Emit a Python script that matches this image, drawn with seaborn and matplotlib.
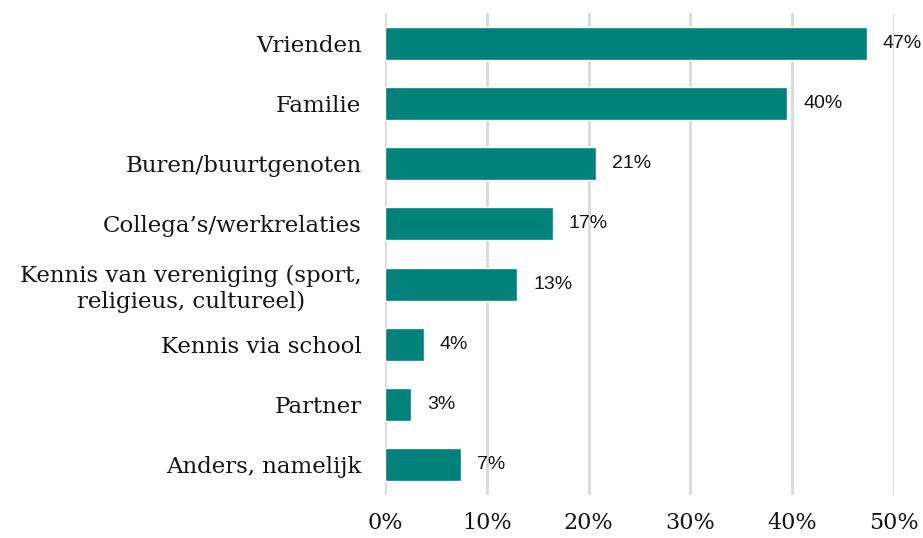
import pandas as pd
import seaborn as sns
import matplotlib.pyplot as plt
from matplotlib.ticker import PercentFormatter

# --- data ---
categories = [
    "Vrienden",
    "Familie",
    "Buren/buurtgenoten",
    "Collega\u2019s/werkrelaties",
    "Kennis van vereniging (sport,\nreligieus, cultureel)",
    "Kennis via school",
    "Partner",
    "Anders, namelijk",
]
values = [47.3, 39.5, 20.7, 16.5, 13.0, 3.8, 2.6, 7.5]
labels = ["47%", "40%", "21%", "17%", "13%", "4%", "3%", "7%"]
xticks = [0, 10, 20, 30, 40, 50]

df = pd.DataFrame({"categorie": categories, "pct": values})

sns.set_style("white")
teal = "#00827A"
grid_col = "#d9d9d9"
txt_col = "#141414"

fig = plt.figure(figsize=(9.23, 5.38), dpi=100)
ax = fig.add_axes([385 / 923, 1 - 495 / 538, (894 - 385) / 923, (495 - 13) / 538])

sns.barplot(data=df, x="pct", y="categorie", color=teal, width=0.55,
            saturation=1, ax=ax, zorder=3)

ax.set_xlim(0, 50)
ax.set_xticks(xticks)
ax.xaxis.set_major_formatter(PercentFormatter(decimals=0))
ax.grid(axis="x", color=grid_col, linewidth=2, zorder=0)
ax.set_axisbelow(True)
for s in ax.spines.values():
    s.set_visible(False)

ax.tick_params(axis="y", length=0, pad=17, labelsize=16.5, labelcolor=txt_col)
ax.tick_params(axis="x", length=0, pad=12, labelsize=16, labelcolor=txt_col)
for t in ax.get_yticklabels():
    t.set_fontfamily("DejaVu Serif")
    t.set_linespacing(1.25)
    t.set_multialignment("center")
for t in ax.get_xticklabels():
    t.set_fontfamily("DejaVu Serif")
ax.set_xlabel("")
ax.set_ylabel("")

for bar, lab in zip(ax.patches, labels):
    y = bar.get_y() + bar.get_height() / 2
    ax.annotate(lab, (bar.get_width(), y), xytext=(16, 0),
                textcoords="offset pixels", va="center", ha="left",
                fontsize=14, family="Liberation Sans", color=txt_col,
                annotation_clip=False)

plt.savefig("out.png", dpi=100)
